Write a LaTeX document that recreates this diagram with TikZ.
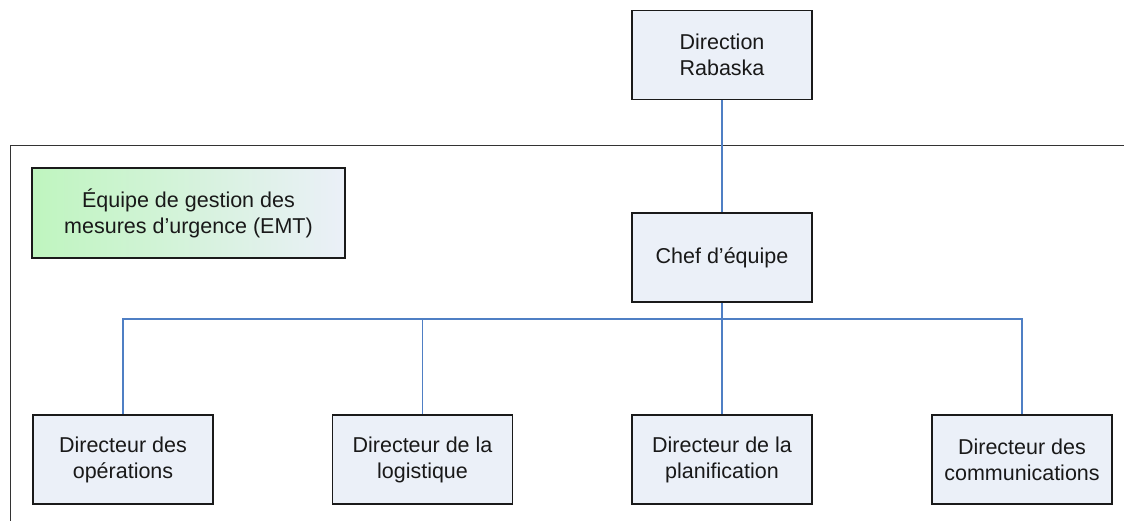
\documentclass[tikz,border=0pt]{standalone}
\usepackage{fontspec}
\setmainfont{Liberation Sans}
\usetikzlibrary{calc}
\definecolor{boxfill}{HTML}{EBF0F8}
\definecolor{boxline}{HTML}{1A1A1A}
\definecolor{linkblue}{HTML}{4F7FC4}
\definecolor{emtgreen}{HTML}{BFF5BF}
\definecolor{framegrey}{HTML}{333333}
\tikzset{
  orgbox/.style={draw=boxline, line width=1.5pt, fill=boxfill,
    minimum width=180pt, minimum height=89pt, inner sep=0pt,
    align=center, font=\fontsize{21.5pt}{26pt}\selectfont, text=black!90},
  conn/.style={draw=linkblue, line width=1.4pt},
  framepen/.style={draw=framegrey, line width=0.9pt}
}
\begin{document}
\begin{tikzpicture}[x=1pt, y=-1pt]
  \useasboundingbox (0,0) rectangle (1124,521);
  % team frame
  \draw[framepen] (1124,145) -- (10,145) -- (10,521);
  % legend
  \node[orgbox, minimum width=313pt, minimum height=90pt,
        left color=emtgreen, right color=boxfill] (emt) at (188.5,213)
        {Équipe de gestion des\\mesures d’urgence (EMT)};
  % hierarchy
  \node[orgbox] (dir) at (722,55) {Direction\\Rabaska};
  \node[orgbox] (chef) at (722,257.5) {Chef d’équipe};
  \node[orgbox] (ops) at (123,459.5) {Directeur des\\opérations};
  \node[orgbox] (log) at (422.5,459.5) {Directeur de la\\logistique};
  \node[orgbox] (plan) at (722,459.5) {Directeur de la\\planification};
  \node[orgbox] (comm) at (1022,459.5) {Directeur des\\communications};
  \coordinate (bus) at (722,319);
  % connectors
  \draw[conn] (dir.south) -- (chef.north);
  \draw[conn] (chef.south) -- (bus);
  \draw[conn] (bus) -| (ops.north);
  \draw[conn] (bus) -| (log.north);
  \draw[conn] (bus) -- (plan.north);
  \draw[conn] (bus) -| (comm.north);
\end{tikzpicture}
\end{document}
